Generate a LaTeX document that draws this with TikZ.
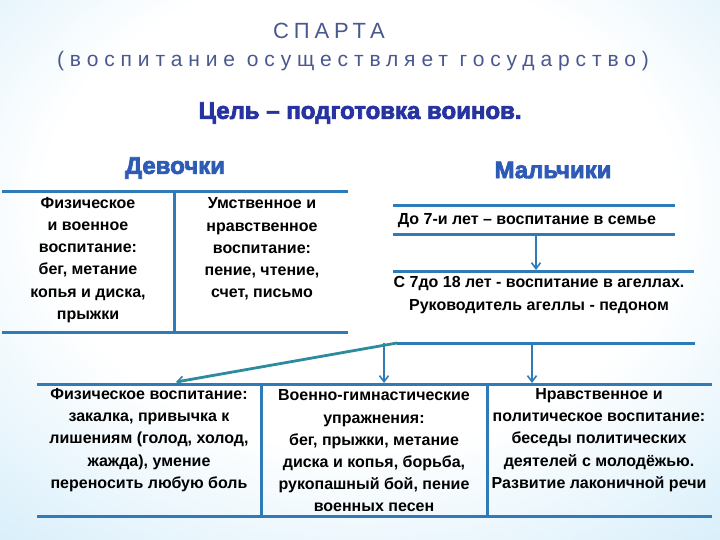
\documentclass[tikz,border=0pt]{standalone}
\usepackage{fontspec}
\setmainfont{Liberation Sans}
\newfontfamily\spacedfont[LetterSpace=22]{Liberation Sans}
\newfontfamily\widefont[LetterSpace=28]{Liberation Sans}
\newfontfamily\heavyfont[FakeBold=3]{Liberation Sans Bold}
\usetikzlibrary{arrows.meta}
\definecolor{rulec}{HTML}{2E7BB8}
\definecolor{slantc}{HTML}{2A8C9E}
\definecolor{titlec}{HTML}{4A5890}
\definecolor{goalc}{HTML}{2633A0}
\definecolor{headc}{HTML}{2D5BB5}
\definecolor{bgmid}{HTML}{D0EBF9}
\definecolor{bgout}{HTML}{80C8EF}
\pgfdeclareradialshading{bgshade}{\pgfpoint{0bp}{8bp}}{color(0bp)=(white);color(22bp)=(white);color(42bp)=(bgmid);color(56bp)=(bgout);color(75bp)=(bgout)}
\tikzset{
  rule/.style={draw=rulec,line width=3pt},
  arr/.style={draw=rulec,line width=2.8pt,-{Straight Barb[length=6pt,width=9pt,line width=1.6pt]}},
  slantarr/.style={draw=slantc,line width=2.8pt,-{Straight Barb[length=6pt,width=9pt,line width=1.6pt]}},
  body/.style={align=center,inner sep=0pt,font=\bfseries\fontsize{16}{22.2}\selectfont},
  head/.style={inner sep=0pt,text=headc,font=\heavyfont\fontsize{24}{26}\selectfont},
}
\begin{document}
\begin{tikzpicture}[x=1pt,y=-1pt]
\useasboundingbox (0,0) rectangle (720,540);
\shade[shading=bgshade] (0,0) rectangle (720,540);
% titles
\node[inner sep=0pt,text=titlec,font=\spacedfont\fontsize{22}{24}\selectfont] (t1) at (329,31) {СПАРТА};
\node[inner sep=0pt,text=titlec,font=\widefont\fontsize{21}{24}\selectfont] (t2) at (353,61) {(воспитание осуществляет государство)};
\node[inner sep=0pt,text=goalc,font=\heavyfont\fontsize{24}{26}\selectfont] (goal) at (360,113) {Цель – подготовка воинов.};
\node[head] (girls) at (175,168) {Девочки};
\node[head] (boys) at (553,170) {Мальчики};
% girls table
\coordinate (g1) at (2,192);
\coordinate (g2) at (348,192);
\coordinate (g3) at (2,332);
\coordinate (g4) at (348,332);
\coordinate (gv1) at (174,192);
\coordinate (gv2) at (174,332);
\draw[rule] (g1) -- (g2);
\draw[rule] (g3) -- (g4);
\draw[rule] (gv1) -- (gv2);
\node[body] (gphys) at (88,260) {Физическое\\и военное\\воспитание:\\бег, метание\\копья и диска,\\прыжки};
\node[body] (gmind) at (262,249) {Умственное и\\нравственное\\воспитание:\\пение, чтение,\\счет, письмо};
% boys
\coordinate (b1) at (393,206);
\coordinate (b2) at (675,206);
\coordinate (b3) at (393,234);
\coordinate (b4) at (675,234);
\coordinate (b5) at (393,271);
\coordinate (b6) at (694,271);
\coordinate (ba1) at (536,234);
\coordinate (ba2) at (536,270);
\draw[rule] (b1) -- (b2);
\draw[rule] (b3) -- (b4);
\draw[rule] (b5) -- (b6);
\draw[arr] (ba1) -- (ba2);
\node[body] (bfam) at (527,221) {До 7-и лет – воспитание в семье};
\node[body] (bagel) at (539,295) {С 7до 18 лет - воспитание в агеллах.\\Руководитель агеллы - педоном};
% lower connectors
\coordinate (h1) at (397,343);
\coordinate (h2) at (695,343);
\coordinate (ha1) at (384,343);
\coordinate (ha2) at (384,383);
\coordinate (hb1) at (532,343);
\coordinate (hb2) at (532,383);
\coordinate (hs) at (176,382);
\draw[rule] (h1) -- (h2);
\draw[arr] (ha1) -- (ha2);
\draw[arr] (hb1) -- (hb2);
\draw[slantarr] (h1) -- (hs);
% lower table
\coordinate (l1) at (37,384);
\coordinate (l2) at (712,384);
\coordinate (l3) at (37,516);
\coordinate (l4) at (712,516);
\coordinate (lv1) at (261,384);
\coordinate (lv2) at (261,516);
\coordinate (lw1) at (487,384);
\coordinate (lw2) at (487,516);
\draw[rule] (l1) -- (l2);
\draw[rule] (l3) -- (l4);
\draw[rule] (lv1) -- (lv2);
\draw[rule] (lw1) -- (lw2);
\node[body] (lphys) at (149,440) {Физическое воспитание:\\закалка, привычка к\\лишениям (голод, холод,\\жажда), умение\\переносить любую боль};
\node[body] (lmil) at (374,451) {Военно-гимнастические\\упражнения:\\бег, прыжки, метание\\диска и копья, борьба,\\рукопашный бой, пение\\военных песен};
\node[body] (lmor) at (599,440) {Нравственное и\\политическое воспитание:\\беседы политических\\деятелей с молодёжью.\\Развитие лаконичной речи};
\end{tikzpicture}
\end{document}
